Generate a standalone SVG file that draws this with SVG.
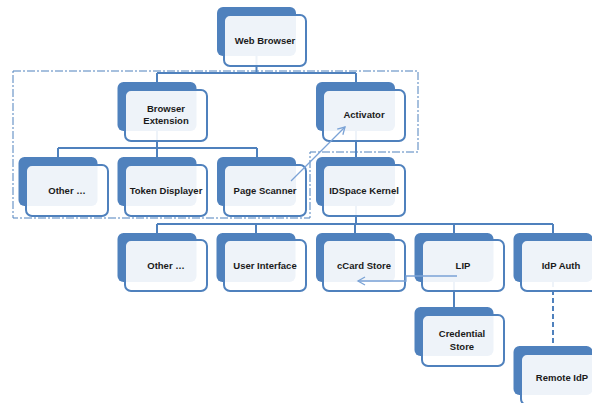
<svg xmlns="http://www.w3.org/2000/svg" width="592" height="403" viewBox="0 0 592 403">
<defs>
<style>
.bk{fill:#4F81BD;}
.fr{fill:#ffffff;fill-opacity:0.9;stroke:#4F81BD;stroke-width:2;}
.t{font-family:"Liberation Sans",Arial,sans-serif;font-weight:bold;font-size:9.5px;fill:#1a1a1a;text-anchor:middle;}
.c{stroke:#4F81BD;stroke-width:2;fill:none;}
.cd{stroke:#4F81BD;stroke-width:2;fill:none;stroke-dasharray:5 3;}
.box{stroke:#4F81BD;stroke-width:1;fill:none;stroke-dasharray:8 2 2 2;}
.ar{stroke:#7BA3D6;stroke-width:1.3;fill:none;}
</style>
<marker id="ah" markerWidth="10" markerHeight="10" refX="8" refY="5" orient="auto" markerUnits="userSpaceOnUse">
<path d="M1,1 L8,5 L1,9" fill="none" stroke="#7BA3D6" stroke-width="1.3"/>
</marker>
</defs>
<rect width="592" height="403" fill="#ffffff"/>
<path class="box" d="M13,71 H418 V152 H310 V218 H13 Z"/>
<g id="connectors">
<path class="c" d="M256.5,56 V73 M157,73 H356 M157,73 V82 M356,73 V82"/>
<path class="c" d="M157,131 V148 M58,148 H257 M58,148 V157 M157,148 V157 M257,148 V157"/>
<path class="c" d="M356,131 V157"/>
<path class="c" d="M356,206 V224 M157,224 H553 M157,224 V233 M256,224 V233 M355,224 V233 M454,224 V233 M553,224 V233"/>
<path class="c" d="M454,282 V307"/>
<path class="cd" d="M553,282 V346"/>
</g>
<g id="web-browser"><rect class="bk" x="217" y="7" width="79" height="49" rx="6"/><rect class="fr" x="224" y="15" width="82" height="51" rx="6"/><text class="t" x="265" y="44">Web Browser</text></g>
<g id="browser-extension"><rect class="bk" x="117.5" y="82" width="79" height="49" rx="6"/><rect class="fr" x="125" y="90" width="82" height="51" rx="6"/><text class="t" x="166" y="112">Browser</text><text class="t" x="166" y="124">Extension</text></g>
<g id="activator"><rect class="bk" x="316" y="82" width="79" height="49" rx="6"/><rect class="fr" x="323" y="90" width="82" height="51" rx="6"/><text class="t" x="364" y="118">Activator</text></g>
<g id="other-1"><rect class="bk" x="18.5" y="157" width="79" height="49" rx="6"/><rect class="fr" x="26" y="165" width="82" height="51" rx="6"/><text class="t" x="67" y="194">Other …</text></g>
<g id="token-displayer"><rect class="bk" x="117.5" y="157" width="79" height="49" rx="6"/><rect class="fr" x="125" y="165" width="82" height="51" rx="6"/><text class="t" x="166" y="194">Token Displayer</text></g>
<g id="page-scanner"><rect class="bk" x="217" y="157" width="79" height="49" rx="6"/><rect class="fr" x="224" y="165" width="82" height="51" rx="6"/><text class="t" x="265" y="194">Page Scanner</text></g>
<g id="idspace-kernel"><rect class="bk" x="316" y="157" width="79" height="49" rx="6"/><rect class="fr" x="323" y="165" width="82" height="51" rx="6"/><text class="t" x="364" y="194">IDSpace Kernel</text></g>
<g id="other-2"><rect class="bk" x="117.5" y="233" width="79" height="49" rx="6"/><rect class="fr" x="125" y="240" width="82" height="51" rx="6"/><text class="t" x="166" y="269">Other …</text></g>
<g id="user-interface"><rect class="bk" x="216.5" y="233" width="79" height="49" rx="6"/><rect class="fr" x="224" y="240" width="82" height="51" rx="6"/><text class="t" x="265" y="269">User Interface</text></g>
<g id="ccard-store"><rect class="bk" x="316" y="233" width="79" height="49" rx="6"/><rect class="fr" x="323" y="240" width="82" height="51" rx="6"/><text class="t" x="364" y="269">cCard Store</text></g>
<g id="lip"><rect class="bk" x="414.5" y="233" width="79" height="49" rx="6"/><rect class="fr" x="422" y="240" width="82" height="51" rx="6"/><text class="t" x="463" y="269">LIP</text></g>
<g id="idp-auth"><rect class="bk" x="513.5" y="233" width="79" height="49" rx="6"/><rect class="fr" x="521" y="240" width="82" height="51" rx="6"/><text class="t" x="561" y="269">IdP Auth</text></g>
<g id="credential-store"><rect class="bk" x="414.5" y="307" width="79" height="49" rx="6"/><rect class="fr" x="422" y="315" width="82" height="51" rx="6"/><text class="t" x="462" y="337">Credential</text><text class="t" x="462" y="350">Store</text></g>
<g id="remote-idp"><rect class="bk" x="513.5" y="346" width="79" height="49" rx="6"/><rect class="fr" x="521" y="354" width="82" height="51" rx="6"/><text class="t" x="562" y="381">Remote IdP</text></g>
<g id="arrows">
<path class="ar" d="M291,181 L345,127" marker-end="url(#ah)"/>
<path class="ar" d="M457,276 H406 V281 H358" marker-end="url(#ah)"/>
</g>
</svg>
